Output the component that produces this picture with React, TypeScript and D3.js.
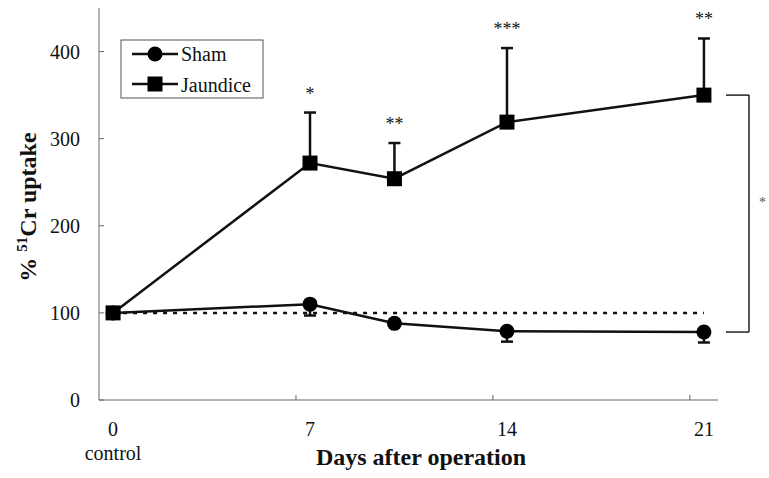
import React from "react";
import * as d3 from "d3";

// Days after operation at which uptake was measured
const days = [0, 7, 10, 14, 21];
// Sham-operated group: mean % 51Cr uptake and SEM (drawn downward)
const shamValues = [100, 110, 88, 79, 78];
const shamErrors = [0, 13, 0, 12, 12];
// Jaundiced group: mean % 51Cr uptake and SEM (drawn upward)
const jaundiceValues = [100, 272, 254, 319, 350];
const jaundiceErrors = [0, 58, 41, 85, 65];
// Significance markers above the jaundice error bars
const significance = ["", "*", "**", "***", "**"];
// Axis labelling
const xTickDays = [0, 7, 14, 21];
const yTicks = [0, 100, 200, 300, 400];

const W = 769;
const H = 478;
const SERIF = "'Liberation Serif', 'Times New Roman', serif";

export default function App() {
  const x = d3.scaleLinear().domain([-0.5, 21.5]).range([99, 718]);
  const y = d3.scaleLinear().domain([0, 450]).range([400, 8]);

  const line = d3
    .line<number>()
    .x((_, i) => x(days[i]))
    .y((v) => y(v));

  const axisColor = "#666";
  const cap = 6;
  const sq = 15;
  const r = 7.5;

  const lastDay = days[days.length - 1];
  const bx0 = 726;
  const bx1 = 749;

  return (
    <svg
      width={W}
      height={H}
      fontFamily={SERIF}
      style={{ position: "absolute", left: 0, top: 0, background: "#fff" }}
    >
      {/* axes */}
      <line x1={x(-0.5)} x2={x(-0.5)} y1={y(450)} y2={y(0)} stroke={axisColor} strokeWidth={1} />
      <line x1={x(-0.5)} x2={x(21.5)} y1={y(0)} y2={y(0)} stroke={axisColor} strokeWidth={1} />
      {yTicks.map((t) => (
        <g key={"y" + t}>
          <line x1={x(-0.5)} x2={x(-0.5) + 5} y1={y(t)} y2={y(t)} stroke={axisColor} />
          <text x={80} y={y(t) + 7} fontSize={20} textAnchor="end" fill="#111">
            {t}
          </text>
        </g>
      ))}
      {xTickDays.slice(1).map((d) => (
        <line key={"xt" + d} x1={x(d - 0.5)} x2={x(d - 0.5)} y1={y(0)} y2={y(0) - 5} stroke={axisColor} />
      ))}
      {xTickDays.map((d) => (
        <text key={"xl" + d} x={x(d)} y={436} fontSize={20} textAnchor="middle" fill="#111">
          {d}
        </text>
      ))}
      <text x={x(0)} y={460} fontSize={20} textAnchor="middle" fill="#111">
        control
      </text>

      {/* axis titles */}
      <text x={421} y={465} fontSize={24} fontWeight="bold" textAnchor="middle" fill="#111">
        Days after operation
      </text>
      <text
        transform="translate(36,207) rotate(-90)"
        fontSize={24}
        fontWeight="bold"
        textAnchor="middle"
        fill="#111"
      >
        %{" "}
        <tspan fontSize={15} dy={-9}>
          51
        </tspan>
        <tspan dy={9}>Cr uptake</tspan>
      </text>

      {/* reference level at 100 % */}
      <line
        x1={x(0)}
        x2={x(lastDay)}
        y1={y(100)}
        y2={y(100)}
        stroke="#111"
        strokeWidth={2.5}
        strokeDasharray="4 6"
      />

      {/* sham error bars (downward) */}
      {shamValues.map((v, i) =>
        shamErrors[i] > 0 ? (
          <g key={"se" + i} stroke="#111" strokeWidth={2.5}>
            <line x1={x(days[i])} x2={x(days[i])} y1={y(v)} y2={y(v - shamErrors[i])} />
            <line x1={x(days[i]) - cap} x2={x(days[i]) + cap} y1={y(v - shamErrors[i])} y2={y(v - shamErrors[i])} />
          </g>
        ) : null
      )}
      {/* jaundice error bars (upward) */}
      {jaundiceValues.map((v, i) =>
        jaundiceErrors[i] > 0 ? (
          <g key={"je" + i} stroke="#111" strokeWidth={2.5}>
            <line x1={x(days[i])} x2={x(days[i])} y1={y(v)} y2={y(v + jaundiceErrors[i])} />
            <line
              x1={x(days[i]) - cap}
              x2={x(days[i]) + cap}
              y1={y(v + jaundiceErrors[i])}
              y2={y(v + jaundiceErrors[i])}
            />
          </g>
        ) : null
      )}

      {/* series lines */}
      <path d={line(shamValues) ?? ""} fill="none" stroke="#111" strokeWidth={2.5} />
      <path d={line(jaundiceValues) ?? ""} fill="none" stroke="#111" strokeWidth={2.5} />

      {/* markers */}
      {shamValues.map((v, i) => (
        <circle key={"sm" + i} cx={x(days[i])} cy={y(v)} r={r} fill="#000" />
      ))}
      {jaundiceValues.map((v, i) => (
        <rect key={"jm" + i} x={x(days[i]) - sq / 2} y={y(v) - sq / 2} width={sq} height={sq} fill="#000" />
      ))}

      {/* significance */}
      {significance.map((s, i) =>
        s ? (
          <text
            key={"sig" + i}
            x={x(days[i])}
            y={y(jaundiceValues[i] + jaundiceErrors[i]) - 13}
            fontSize={18}
            textAnchor="middle"
            fill="#111"
          >
            {s}
          </text>
        ) : null
      )}

      {/* bracket comparing the two groups at day 21 */}
      <g stroke="#222" strokeWidth={1.5} fill="none">
        <line x1={bx0} x2={bx1} y1={y(jaundiceValues[4])} y2={y(jaundiceValues[4])} />
        <line x1={bx1} x2={bx1} y1={y(jaundiceValues[4])} y2={y(shamValues[4])} />
        <line x1={bx0} x2={bx1} y1={y(shamValues[4])} y2={y(shamValues[4])} />
      </g>
      <text x={759} y={207} fontSize={14} fill="#555">
        *
      </text>

      {/* legend */}
      <rect x={121} y={40} width={142} height={58} fill="#fff" stroke="#555" strokeWidth={1} />
      <line x1={132} x2={178} y1={54} y2={54} stroke="#111" strokeWidth={2.5} />
      <circle cx={155} cy={54} r={r} fill="#000" />
      <text x={181} y={61} fontSize={20} fill="#111">
        Sham
      </text>
      <line x1={132} x2={178} y1={84} y2={84} stroke="#111" strokeWidth={2.5} />
      <rect x={155 - sq / 2} y={84 - sq / 2} width={sq} height={sq} fill="#000" />
      <text x={181} y={92} fontSize={20} fill="#111">
        Jaundice
      </text>
    </svg>
  );
}
